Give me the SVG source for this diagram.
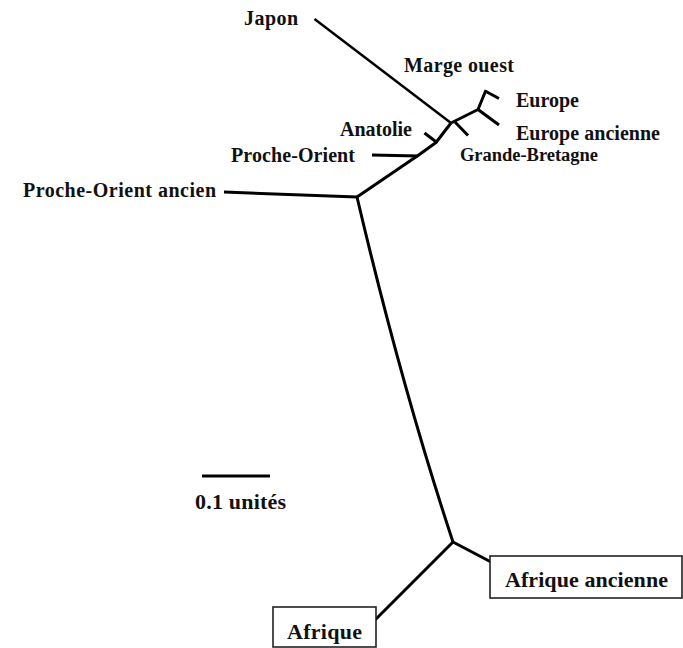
<svg xmlns="http://www.w3.org/2000/svg" width="683" height="648" viewBox="0 0 683 648">
<style>
  text { font-family: "Liberation Serif", "Times New Roman", serif; font-weight: bold; font-size: 20px; fill: #111; }
  .big { font-size: 22px; }
  .sm { font-size: 18.5px; }
  .br { stroke: #000; stroke-width: 3; fill: none; stroke-linecap: butt; stroke-linejoin: round; }
  .thin { stroke-width: 2.5; }
  .box { fill: #fff; stroke: #222; stroke-width: 1.6; }
</style>
<rect width="683" height="648" fill="#fff"/>
<g id="connectors">
  <path class="br thin" d="M314.5,19 L451,123"/>
  <path class="br" d="M451,123 L436,142.5 L418,155.5 L357,197"/>
  <path class="br" d="M372,155 L418,156"/>
  <path class="br" d="M424.5,133 L437,142.5"/>
  <path class="br" d="M455,122 L468,135.5"/>
  <path class="br" d="M451,123 L478,109.5 L486,90"/>
  <path class="br" d="M486,91.5 L499,98.5"/>
  <path class="br" d="M478,109.5 L499,125"/>
  <path class="br" d="M224,192 L357,197"/>
  <path class="br" d="M357,197 C384,312 416,430 453,542"/>
  <path class="br" d="M453,542 L491,562"/>
  <path class="br" d="M453,542 L375,620"/>
  <path class="br" d="M202,476 L270,476"/>
</g>
<g id="japon"><text x="244" y="25" textLength="54">Japon</text></g>
<g id="marge-ouest"><text x="404" y="72" textLength="110">Marge ouest</text></g>
<g id="europe"><text x="516" y="107" textLength="63">Europe</text></g>
<g id="europe-ancienne"><text x="516" y="140" textLength="144">Europe ancienne</text></g>
<g id="grande-bretagne"><text class="sm" x="460" y="161" textLength="138">Grande-Bretagne</text></g>
<g id="anatolie"><text x="340" y="136" textLength="72">Anatolie</text></g>
<g id="proche-orient"><text x="231" y="162" textLength="124">Proche-Orient</text></g>
<g id="proche-orient-ancien"><text x="23" y="197" textLength="193">Proche-Orient ancien</text></g>
<g id="echelle"><text class="big" x="195" y="509" textLength="91">0.1 unités</text></g>
<g id="afrique-ancienne">
  <rect class="box" x="490" y="556" width="192" height="42"/>
  <text class="big" x="505" y="587" textLength="163">Afrique ancienne</text>
</g>
<g id="afrique">
  <rect class="box" x="273" y="607" width="103" height="40"/>
  <text class="big" x="287" y="639" textLength="75">Afrique</text>
</g>
</svg>
